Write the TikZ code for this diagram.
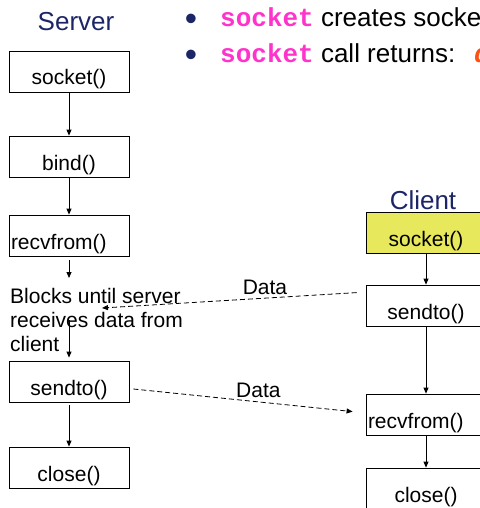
\documentclass[tikz,border=0pt]{standalone}
\usepackage{fontspec}
\setmainfont{Liberation Sans}
\newfontfamily\codefont{Liberation Mono}
\usetikzlibrary{arrows.meta,calc}
\definecolor{titleblue}{RGB}{28,38,102}
\definecolor{callpink}{RGB}{255,51,204}
\definecolor{retorange}{RGB}{255,80,20}
\definecolor{clientyellow}{RGB}{232,232,92}

\begin{document}
\begin{tikzpicture}[x=1pt,y=-1pt,font=\fontsize{21}{24}\selectfont]
\useasboundingbox (0,0) rectangle (479,508);
\def\xS{69} \def\xC{426}
\tikzset{call/.style={draw,line width=0.8pt,minimum width=120pt,minimum height=41pt,inner sep=0pt,text height=27pt,text depth=0pt}}
\tikzset{lcall/.style={call,text width=116pt,align=left}}
\tikzset{flow/.style={-{Triangle[length=6pt,width=5pt]},line width=0.8pt}}
\tikzset{pkt/.style={flow,dash pattern=on 5pt off 3pt}}
\tikzset{hdr/.style={titleblue,font=\fontsize{26}{30}\selectfont}}
\tikzset{big/.style={anchor=base west,inner sep=0pt,font=\fontsize{26}{30}\selectfont}}
\tikzset{dot/.style={anchor=base,inner sep=0pt,titleblue,font=\fontsize{35}{40}\selectfont}}
% bullets
\node[dot] (b1) at (191,31) {\textbullet};
\node[dot] (b2) at (191,67) {\textbullet};
\node[big] (t1) at (220,27) {\textcolor{callpink}{\codefont\bfseries socket} creates socket};
\node[big] (t2) at (220,63) {\textcolor{callpink}{\codefont\bfseries socket} call returns:};
\node[big,retorange] (t3) at (474,63) {\codefont\bfseries\itshape d};
% server side
\node[hdr] (srv) at (76,22) {Server};
\node[call] (ssock) at (\xS,71.5) {socket()};
\node[call] (sbind) at (\xS,156.5) {bind()};
\node[lcall] (srecv) at (\xS,235.5) {recvfrom()};
\node[anchor=north west,align=left,inner sep=0pt] (blk) at (10,288) {Blocks until server\\receives data from\\client};
\node[call] (ssend) at (\xS,381.5) {sendto()};
\node[call] (sclose) at (\xS,467.5) {close()};
\draw[flow] (ssock) -- (sbind);
\draw[flow] (sbind) -- (srecv);
\draw[flow] ([yshift=-4pt]srecv.south) -- ([yshift=10pt]srecv.south |- blk.north);
\draw[flow] (srecv.south |- blk.center) -- ([yshift=3pt]ssend.north);
\draw[flow] ([yshift=-3pt]ssend.south) -- (sclose);
% client side
\node[hdr] (cli) at (423,200) {Client};
\node[call,fill=clientyellow] (csock) at (\xC,233) {socket()};
\node[call] (csend) at (\xC,305.5) {sendto()};
\node[lcall] (crecv) at (\xC,414.5) {recvfrom()};
\node[call] (cclose) at (\xC,488.5) {close()};
\draw[flow] (csock) -- (csend);
\draw[flow] (csend) -- (crecv);
\draw[flow] (crecv) -- (cclose);
% datagrams
\coordinate (blktip) at (102,308);
\draw[pkt] ([xshift=-9pt,yshift=-8pt]csend.north west) -- node[pos=0.36,above]{Data} (blktip);
\draw[pkt] ([xshift=4pt,yshift=-7.5pt]ssend.east) -- node[pos=0.57,above]{Data} ([xshift=-13pt,yshift=-18pt]crecv.north west);
\end{tikzpicture}
\end{document}
